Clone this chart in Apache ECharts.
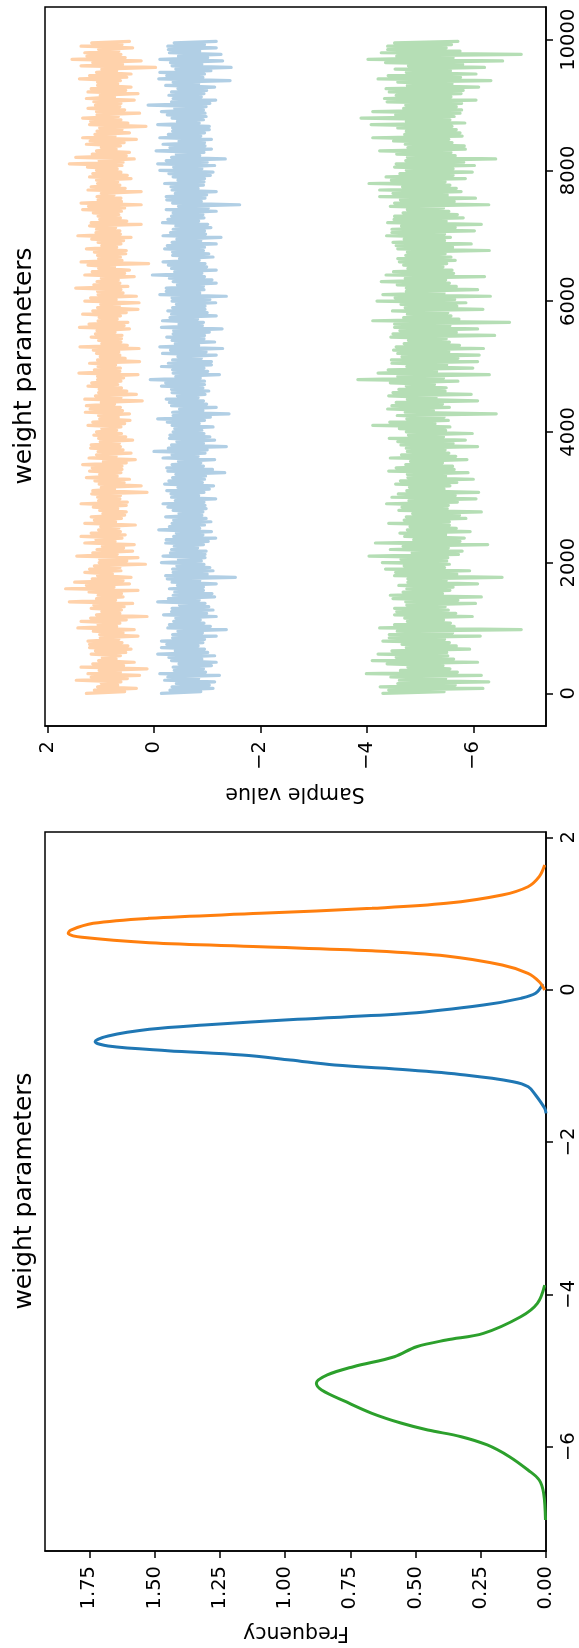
<!DOCTYPE html>
<html>
<head>
<meta charset="utf-8">
<script src="https://cdn.jsdelivr.net/npm/echarts@6/dist/echarts.min.js"></script>
<style>
  html, body { margin: 0; padding: 0; background: #fff; }
  #chart { width: 579px; height: 1648px; }
</style>
</head>
<body>
<div id="chart"></div>
<script>
// Trace draws, thinned to every 25th sample. Each block of four draws is
// [outer high, core low, core high, outer low], taken from the arrays below.
const traceStep = 25;

// Outer excursions (alternating high / low) for each weight
const orangeTrace = [
  1.27,0.33,1.06,0.62,1.46,0.27,1.24,0.13,1.37,0.37,1.04,0.63,1.18,0.43,1.21,0.60,1.24,0.30,1.02,0.37,
  1.43,0.64,1.37,0.13,1.08,0.61,1.18,0.40,1.59,0.58,1.05,0.30,1.66,0.46,1.49,0.43,1.06,0.62,1.21,0.16,
  1.03,0.30,1.45,0.40,1.07,0.37,1.30,0.60,1.37,0.63,1.04,0.35,1.30,0.61,1.18,0.52,1.02,0.52,1.37,0.64,
  1.06,0.13,1.15,0.24,1.03,0.46,1.27,0.62,1.21,0.60,1.34,0.35,1.22,0.43,1.05,0.63,1.18,0.40,1.04,0.61,
  1.08,0.62,1.24,0.45,1.02,0.46,1.29,0.63,1.27,0.22,1.30,0.33,1.04,0.61,1.24,0.62,1.06,0.30,1.41,0.63,
  1.05,0.27,1.06,0.64,1.08,0.28,1.39,0.62,1.04,0.60,1.10,0.46,1.40,0.49,1.05,0.63,1.34,0.30,1.06,0.28,
  1.30,0.33,1.05,0.62,1.47,0.64,1.07,0.37,1.30,0.46,1.04,0.10,1.37,0.63,1.06,0.52,1.27,0.62,1.05,0.43,
  1.43,0.64,1.08,0.24,1.18,0.63,1.05,0.61,1.34,0.24,1.37,0.62,1.07,0.24,1.24,0.64,1.06,0.43,1.21,0.62,
  1.08,0.60,1.59,0.37,1.47,0.46,1.08,0.63,1.27,0.33,1.34,0.46,1.07,0.15,1.21,0.62,1.34,0.27,1.08,0.64,
  1.10,0.37,1.27,0.30,1.24,0.43,1.06,0.63,1.40,0.43,1.08,-0.03,1.37,0.24,1.54,0.62,1.30,0.40,1.37,0.46
];
const blueTrace = [
  -0.14,-1.11,-0.34,-1.14,-0.20,-1.23,-0.11,-0.93,-0.36,-1.17,-0.33,-1.14,-0.07,-0.95,-0.14,-0.92,-0.14,-1.17,-0.35,-1.36,
  -0.26,-0.94,-0.37,-1.17,-0.18,-1.11,-0.34,-0.96,-0.07,-1.14,-0.36,-0.93,-0.29,-1.17,-0.34,-1.53,-0.22,-1.11,-0.35,-0.94,
  -0.14,-0.96,-0.17,-0.98,-0.33,-0.93,-0.22,-1.16,-0.37,-1.08,-0.09,-0.95,-0.34,-0.98,-0.22,-0.92,-0.36,-0.96,-0.17,-1.16,
  -0.33,-0.94,-0.24,-1.12,-0.20,-0.95,-0.35,-1.33,-0.26,-0.93,-0.34,-1.14,-0.17,-0.96,0.00,-1.36,-0.33,-1.14,-0.29,-0.94,
  -0.36,-1.11,-0.34,-0.95,-0.07,-1.41,-0.35,-1.17,-0.33,-0.93,-0.23,-0.96,-0.34,-0.92,-0.14,-0.95,0.07,-1.23,-0.36,-0.94,
  -0.14,-1.08,-0.35,-1.17,-0.16,-1.29,-0.11,-1.14,-0.34,-0.95,-0.36,-1.28,-0.14,-0.93,-0.16,-1.17,-0.33,-0.96,-0.35,-1.16,
  -0.34,-1.36,-0.11,-0.94,-0.23,-1.17,-0.36,-0.95,0.03,-1.17,-0.33,-0.96,-0.17,-1.11,-0.35,-0.93,-0.20,-1.17,-0.34,-1.26,
  -0.17,-0.95,-0.36,-1.01,-0.16,-0.94,-0.33,-1.17,-0.23,-1.61,-0.35,-0.96,-0.23,-1.17,-0.34,-0.93,-0.20,-0.95,-0.36,-1.11,
  -0.11,-1.14,-0.07,-1.34,-0.33,-0.94,-0.04,-0.96,-0.17,-1.08,-0.11,-0.95,-0.35,-1.04,-0.07,-0.93,-0.34,-0.96,-0.14,-0.98,
  0.11,-1.16,-0.36,-0.94,-0.33,-1.14,-0.22,-1.43,-0.09,-0.95,-0.11,-1.45,-0.34,-1.29,-0.11,-1.26,-0.29,-1.17,-0.26,-1.17
];
const greenTrace = [
  -4.30,-6.18,-4.25,-6.29,-4.61,-6.15,-3.99,-5.56,-4.77,-6.08,-4.10,-5.52,-4.21,-5.93,-4.74,-5.55,-4.30,-6.13,-4.42,-6.90,
  -4.24,-5.57,-4.76,-5.98,-4.52,-5.53,-4.52,-6.04,-4.73,-6.15,-4.44,-5.56,-4.75,-6.08,-4.77,-6.54,-4.52,-5.93,-4.35,-5.55,
  -4.29,-5.52,-4.04,-5.79,-4.44,-6.27,-4.16,-5.83,-4.71,-5.94,-4.76,-5.55,-4.41,-5.86,-4.74,-6.15,-4.60,-5.53,-4.37,-6.05,
  -4.47,-6.10,-4.75,-5.56,-4.54,-6.00,-4.77,-5.90,-4.41,-5.61,-4.73,-5.88,-4.44,-5.54,-4.76,-6.08,-4.64,-5.85,-4.42,-5.98,
  -4.74,-5.56,-4.11,-5.53,-4.75,-6.43,-4.72,-5.55,-4.47,-6.08,-4.76,-5.96,-4.49,-5.49,-4.74,-5.71,-3.83,-6.30,-4.21,-5.99,
  -4.75,-6.08,-4.46,-6.11,-4.58,-6.19,-4.55,-5.55,-4.78,-6.40,-4.49,-6.08,-4.52,-6.68,-4.11,-5.58,-4.76,-6.18,-4.72,-5.86,
  -4.19,-6.32,-4.30,-6.08,-4.74,-5.55,-4.27,-6.21,-4.36,-5.60,-4.77,-5.50,-4.61,-5.58,-4.73,-6.30,-4.58,-5.96,-4.49,-5.57,
  -4.37,-6.02,-4.47,-6.15,-4.39,-5.81,-4.52,-5.54,-4.76,-6.29,-4.52,-6.04,-4.24,-5.77,-4.24,-5.56,-4.04,-5.85,-4.36,-5.98,
  -4.74,-6.02,-4.55,-6.42,-4.76,-5.58,-4.24,-5.83,-4.72,-5.54,-4.11,-5.75,-4.74,-5.60,-4.08,-5.56,-3.89,-5.75,-4.11,-5.68,
  -4.73,-6.05,-4.33,-5.77,-4.42,-6.10,-4.76,-6.33,-4.21,-6.05,-4.74,-6.21,-4.78,-6.55,-4.02,-6.90,-4.27,-5.49,-4.39,-5.71
];

// Draws inside the dense core of each trace, one high / low pair per block of 100 draws
const orangeCoreHigh = [
  1.12,0.99,1.18,1.03,1.15,0.97,1.10,1.21,1.01,1.14,1.05,1.19,0.98,1.13,1.08,1.22,1.27,1.16,1.30,1.12,
  1.02,1.15,0.97,1.09,1.18,1.00,1.12,0.96,1.14,1.04,1.17,0.99,1.11,1.02,1.16,0.95,1.08,1.19,1.01,1.13,
  0.98,1.15,1.04,1.20,0.99,1.10,1.03,1.17,1.06,1.12,1.21,1.01,1.14,0.98,1.18,1.07,1.22,1.03,1.15,1.00,
  1.19,1.06,1.13,0.99,1.16,1.24,1.04,1.12,0.98,1.17,1.09,1.21,1.02,1.14,1.23,1.05,0.99,1.18,1.08,1.15,
  1.25,1.03,1.16,0.99,1.20,1.11,1.02,1.19,1.07,1.24,1.13,1.01,1.18,1.06,1.21,0.98,1.15,1.26,1.04,1.17
];
const orangeCoreLow = [
  0.55,0.68,0.50,0.63,0.57,0.71,0.53,0.49,0.66,0.58,0.70,0.52,0.64,0.56,0.72,0.61,0.75,0.58,0.78,0.64,
  0.51,0.69,0.57,0.73,0.54,0.66,0.72,0.55,0.68,0.50,0.63,0.74,0.56,0.69,0.60,0.52,0.71,0.58,0.65,0.53,
  0.70,0.55,0.67,0.59,0.74,0.62,0.51,0.68,0.57,0.64,0.72,0.54,0.66,0.50,0.61,0.73,0.56,0.69,0.52,0.65,
  0.71,0.58,0.49,0.67,0.55,0.74,0.60,0.53,0.70,0.57,0.63,0.72,0.51,0.66,0.55,0.61,0.75,0.54,0.68,0.50,
  0.69,0.58,0.52,0.71,0.56,0.73,0.60,0.49,0.67,0.55,0.62,0.74,0.53,0.68,0.51,0.70,0.59,0.54,0.66,0.60
];
const blueCoreHigh = [
  -0.30,-0.42,-0.26,-0.38,-0.47,-0.28,-0.40,-0.24,-0.35,-0.45,-0.29,-0.41,-0.33,-0.48,-0.27,-0.39,-0.44,-0.25,-0.36,-0.43,
  -0.46,-0.31,-0.38,-0.23,-0.42,-0.29,-0.37,-0.47,-0.26,-0.40,-0.32,-0.45,-0.28,-0.41,-0.24,-0.46,-0.34,-0.27,-0.43,-0.30,
  -0.39,-0.25,-0.36,-0.48,-0.29,-0.44,-0.33,-0.22,-0.41,-0.35,-0.27,-0.45,-0.31,-0.40,-0.24,-0.37,-0.47,-0.30,-0.26,-0.42,
  -0.34,-0.23,-0.44,-0.29,-0.39,-0.27,-0.48,-0.35,-0.25,-0.43,-0.31,-0.41,-0.26,-0.36,-0.46,-0.24,-0.40,-0.32,-0.45,-0.28,
  -0.37,-0.23,-0.42,-0.30,-0.47,-0.27,-0.35,-0.44,-0.25,-0.39,-0.33,-0.28,-0.45,-0.36,-0.24,-0.41,-0.31,-0.46,-0.27,-0.38
];
const blueCoreLow = [
  -0.88,-1.04,-0.84,-0.97,-1.08,-0.90,-1.01,-0.83,-0.95,-0.91,-1.06,-0.87,-0.99,-1.03,-0.85,-1.09,-0.93,-0.86,-1.00,-1.05,
  -0.89,-0.96,-0.82,-1.02,-0.92,-0.86,-1.07,-0.90,-0.98,-0.94,-0.84,-1.04,-0.91,-0.97,-1.10,-0.88,-0.83,-1.00,-0.93,-1.05,
  -0.90,-0.85,-1.06,-0.92,-0.99,-0.83,-1.03,-0.95,-0.87,-1.01,-1.08,-0.89,-0.98,-0.84,-0.94,-1.04,-0.91,-0.82,-1.00,-0.96,
  -1.05,-0.86,-0.93,-1.09,-0.90,-0.99,-0.85,-1.03,-0.95,-0.88,-0.97,-1.07,-0.84,-0.92,-1.02,-0.89,-0.99,-0.83,-0.94,-1.06,
  -0.90,-1.00,-0.86,-1.08,-0.95,-0.88,-1.04,-0.85,-0.98,-0.93,-1.05,-0.89,-0.99,-0.84,-0.92,-1.07,-0.90,-1.01,-0.86,-0.95
];
const greenCoreHigh = [
  -4.41,-4.58,-4.45,-4.63,-4.38,-4.55,-4.47,-4.66,-4.42,-4.57,-4.52,-4.71,-4.56,-4.75,-4.49,-4.68,-4.60,-4.77,-4.54,-4.70,
  -4.64,-4.85,-4.68,-4.88,-4.62,-4.81,-4.70,-4.86,-4.66,-4.79,-4.59,-4.80,-4.63,-4.76,-4.55,-4.82,-4.65,-4.74,-4.58,-4.78,
  -4.61,-4.43,-4.57,-4.39,-4.55,-4.41,-4.60,-4.44,-4.58,-4.40,-4.47,-4.66,-4.50,-4.70,-4.45,-4.62,-4.52,-4.69,-4.48,-4.64,
  -4.53,-4.74,-4.57,-4.72,-4.50,-4.69,-4.58,-4.76,-4.55,-4.70,-4.47,-4.65,-4.51,-4.68,-4.44,-4.63,-4.49,-4.67,-4.46,-4.62,
  -4.52,-4.73,-4.56,-4.77,-4.50,-4.71,-4.58,-4.74,-4.54,-4.69,-4.38,-4.55,-4.36,-4.58,-4.40,-4.53,-4.35,-4.56,-4.39,-4.52
];
const greenCoreLow = [
  -5.45,-5.66,-5.48,-5.70,-5.43,-5.63,-5.50,-5.68,-5.46,-5.61,-5.64,-5.44,-5.67,-5.47,-5.71,-5.42,-5.62,-5.49,-5.69,-5.46,
  -5.50,-5.72,-5.53,-5.75,-5.48,-5.68,-5.55,-5.74,-5.51,-5.70,-5.66,-5.45,-5.69,-5.48,-5.64,-5.42,-5.67,-5.47,-5.62,-5.44,
  -5.48,-5.28,-5.45,-5.25,-5.42,-5.30,-5.47,-5.27,-5.44,-5.31,-5.50,-5.71,-5.54,-5.74,-5.49,-5.68,-5.56,-5.73,-5.52,-5.69,
  -5.65,-5.45,-5.68,-5.48,-5.63,-5.43,-5.66,-5.47,-5.61,-5.46,-5.46,-5.66,-5.49,-5.70,-5.44,-5.64,-5.51,-5.68,-5.47,-5.62,
  -5.62,-5.82,-5.66,-5.85,-5.60,-5.79,-5.68,-5.84,-5.64,-5.78,-5.78,-5.58,-5.81,-5.60,-5.76,-5.57,-5.80,-5.62,-5.75,-5.59
];

// Kernel density estimates: sample value and density
const orangeKdeValue = [-0.005,0.104,0.214,0.323,0.442,0.51,0.564,0.616,0.687,0.74,0.783,0.871,0.937,1.002,1.068,1.133,1.243,1.351,1.483,1.636];
const orangeKdeDensity = [0.005,0.026,0.069,0.168,0.382,0.667,1.094,1.52,1.778,1.831,1.821,1.735,1.52,1.094,0.667,0.382,0.168,0.069,0.026,0.005];
const blueKdeValue = [-1.624,-1.558,-1.383,-1.274,-1.208,-1.12,-1.055,-0.99,-0.924,-0.858,-0.801,-0.74,-0.683,-0.609,-0.521,-0.464,-0.389,-0.311,-0.202,-0.114,-0.048,0.074];
const blueKdeDensity = [0.0,0.005,0.04,0.068,0.126,0.31,0.524,0.81,0.98,1.165,1.45,1.678,1.728,1.678,1.52,1.31,0.952,0.524,0.24,0.097,0.04,0.012];
const greenKdeValue = [-6.963,-6.613,-6.438,-6.307,-6.132,-5.978,-5.869,-5.781,-5.693,-5.562,-5.41,-5.256,-5.168,-5.059,-4.95,-4.819,-4.688,-4.6,-4.512,-4.294,-4.118,-3.878];
const greenKdeDensity = [0.002,0.009,0.026,0.069,0.14,0.225,0.325,0.453,0.553,0.667,0.767,0.86,0.88,0.838,0.738,0.581,0.496,0.382,0.24,0.097,0.033,0.005];

// Tick labels
const sampleTicks = [-6, -4, -2, 0, 2];
const drawTicks = [0, 2000, 4000, 6000, 8000, 10000];
const densityTicks = [0, 0.25, 0.5, 0.75, 1.0, 1.25, 1.5, 1.75];

const colors = { blue: '#1f77b4', orange: '#ff7f0e', green: '#2ca02c' };
const fadedColors = { blue: '#b1cfe5', orange: '#ffd2ab', green: '#b5deb5' };
const FONT = 'DejaVu Sans';
const minus = v => String(v).replace('-', '\u2212');

function traceData(outer, coreHigh, coreLow) {
  const out = [];
  for (let k = 0; k < coreHigh.length; k++) {
    const block = [outer[2 * k], coreLow[k], coreHigh[k], outer[2 * k + 1]];
    block.forEach((v, j) => out.push([v, (4 * k + j) * traceStep]));
  }
  return out;
}
function kdeData(values, density) {
  return values.map((v, i) => [density[i], v]);
}

function axisCommon(ticks, formatter, margin) {
  return {
    axisLine: { show: true, onZero: false, lineStyle: { color: '#000', width: 1.5 } },
    axisTick: { show: true, length: 7, customValues: ticks, lineStyle: { color: '#000', width: 1.5 } },
    axisLabel: {
      customValues: ticks, rotate: 90, margin: margin, color: '#000',
      fontFamily: FONT, fontSize: 19.5, formatter: formatter
    },
    splitLine: { show: false }
  };
}

function traceSeries(name, data, color) {
  return {
    name: name, type: 'line', xAxisIndex: 0, yAxisIndex: 0, data: data, showSymbol: false,
    lineStyle: { color: color, width: 3.2, join: 'round', cap: 'round' }
  };
}
function kdeSeries(name, data, color) {
  return {
    name: name, type: 'line', xAxisIndex: 1, yAxisIndex: 1, data: data, showSymbol: false, smooth: 0.35,
    lineStyle: { color: color, width: 3 }
  };
}

const chart = echarts.init(document.getElementById('chart'), null, { renderer: 'canvas' });

const option = {
  backgroundColor: '#fff',
  animation: false,
  grid: [
    { left: 45, top: 7, width: 501, height: 719, show: true, borderColor: '#000', borderWidth: 1.5, backgroundColor: 'transparent' },
    { left: 45, top: 832, width: 501, height: 719, show: true, borderColor: '#000', borderWidth: 1.5, backgroundColor: 'transparent' }
  ],
  xAxis: [
    Object.assign({ type: 'value', gridIndex: 0, position: 'bottom', inverse: true, min: -7.365, max: 2.047 },
      axisCommon(sampleTicks, minus, 15)),
    Object.assign({ type: 'value', gridIndex: 1, position: 'bottom', inverse: true, min: 0, max: 1.92 },
      axisCommon(densityTicks, v => Number(v).toFixed(2), 15))
  ],
  yAxis: [
    Object.assign({ type: 'value', gridIndex: 0, position: 'right', min: -500, max: 10500 },
      axisCommon(drawTicks, v => String(v), 13)),
    Object.assign({ type: 'value', gridIndex: 1, position: 'right', min: -7.37, max: 2.07 },
      axisCommon(sampleTicks, minus, 13))
  ],
  series: [
    traceSeries('w0 trace', traceData(orangeTrace, orangeCoreHigh, orangeCoreLow), fadedColors.orange),
    traceSeries('w1 trace', traceData(blueTrace, blueCoreHigh, blueCoreLow), fadedColors.blue),
    traceSeries('w2 trace', traceData(greenTrace, greenCoreHigh, greenCoreLow), fadedColors.green),
    kdeSeries('w1 density', kdeData(blueKdeValue, blueKdeDensity), colors.blue),
    kdeSeries('w0 density', kdeData(orangeKdeValue, orangeKdeDensity), colors.orange),
    kdeSeries('w2 density', kdeData(greenKdeValue, greenKdeDensity), colors.green)
  ],
  graphic: [
    { type: 'text', x: 24, y: 366, rotation: Math.PI / 2,
      style: { text: 'weight parameters', fontFamily: FONT, fontSize: 25, fill: '#000', align: 'center', verticalAlign: 'middle' } },
    { type: 'text', x: 295, y: 793, rotation: Math.PI,
      style: { text: 'Sample value', fontFamily: FONT, fontSize: 20.5, fill: '#000', align: 'center', verticalAlign: 'middle' } },
    { type: 'text', x: 24, y: 1191, rotation: Math.PI / 2,
      style: { text: 'weight parameters', fontFamily: FONT, fontSize: 25, fill: '#000', align: 'center', verticalAlign: 'middle' } },
    { type: 'text', x: 296, y: 1632, rotation: Math.PI,
      style: { text: 'Frequency', fontFamily: FONT, fontSize: 20.5, fill: '#000', align: 'center', verticalAlign: 'middle' } }
  ]
};

chart.setOption(option);
</script>
</body>
</html>
